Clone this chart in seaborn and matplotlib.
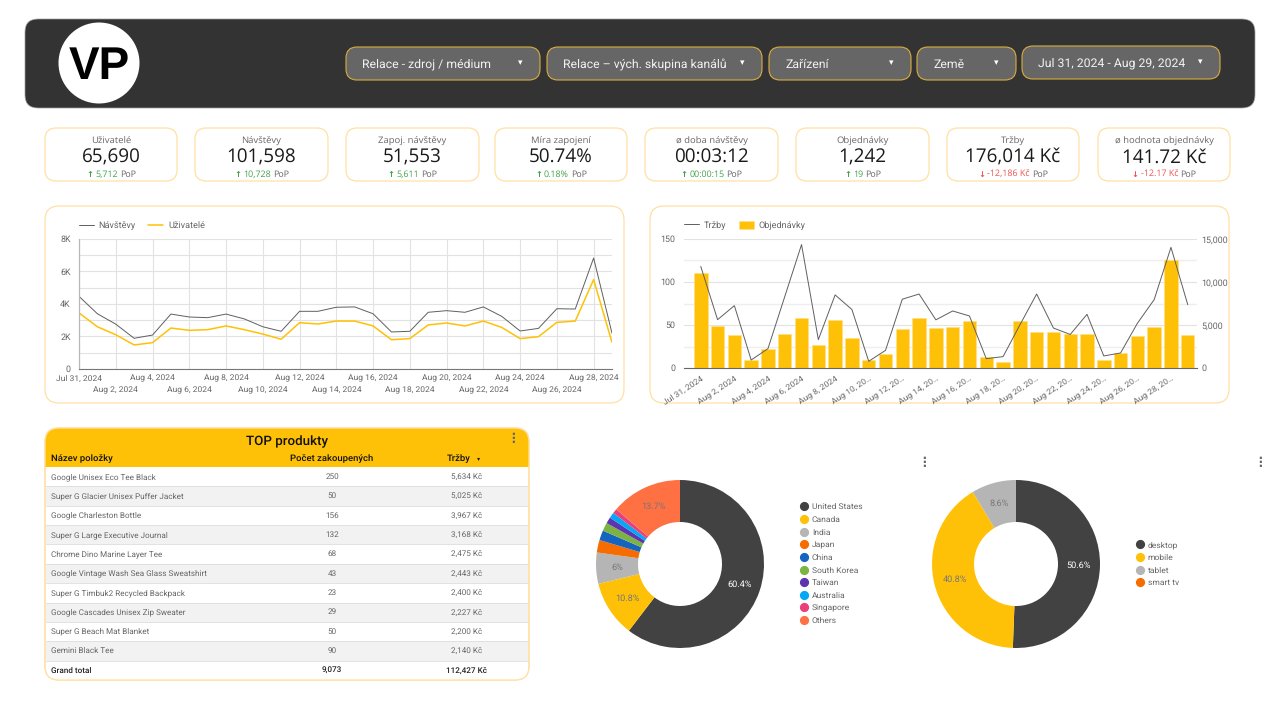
import matplotlib
matplotlib.use("Agg")
import matplotlib.pyplot as plt
from matplotlib.lines import Line2D
from matplotlib.patches import Circle, FancyBboxPatch, Rectangle
from matplotlib.ticker import FuncFormatter, MultipleLocator
import seaborn as sns

days = ["Jul 31, 2024"] + [f"Aug {d}, 2024" for d in range(1, 30)]

visits = [4470, 3400, 2760, 1890, 2090, 3380, 3200, 3160, 3380, 3080,
          2600, 2320, 3550, 3550, 3800, 3820, 3400, 2280, 2320, 3490,
          3590, 3490, 3820, 3240, 2340, 2500, 3710, 3690, 6830, 2200]
users = [3450, 2600, 2110, 1480, 1620, 2520, 2380, 2420, 2650, 2420,
         2150, 1830, 2850, 2770, 2950, 2950, 2650, 1800, 1870, 2710,
         2830, 2650, 2950, 2560, 1870, 1990, 2870, 2950, 5500, 1640]
orders = [111, 49, 38, 9, 22, 39, 58, 27, 56, 35, 9, 16, 45, 58, 46,
          48, 55, 13, 7, 55, 42, 42, 39, 39, 9, 17, 37, 48, 125, 38]
revenue = [11800, 5620, 7250, 930, 2250, 8300, 14350, 3300, 8500, 6800,
           780, 2050, 8000, 8600, 5600, 6630, 6050, 1090, 1320, 5000,
           8600, 4650, 3900, 6240, 1400, 1750, 5200, 7950, 14030, 7360]

filters = ["Relace - zdroj / médium", "Relace – vých. skupina kanálů", "Zařízení", "Země",
           "Jul 31, 2024 - Aug 29, 2024"]

kpi_names = ["Uživatelé", "Návštěvy", "Zapoj. návštěvy", "Míra zapojení",
             "ø doba návštěvy", "Objednávky", "Tržby", "ø hodnota objednávky"]
kpi_values = ["65,690", "101,598", "51,553", "50.74%", "00:03:12", "1,242",
              "176,014 Kč", "141.72 Kč"]
kpi_deltas = ["5,712", "10,728", "5,611", "0.18%", "00:00:15", "19",
              "-12,186 Kč", "-12.17 Kč"]

products = ["Google Unisex Eco Tee Black", "Super G Glacier Unisex Puffer Jacket",
            "Google Charleston Bottle", "Super G Large Executive Journal",
            "Chrome Dino Marine Layer Tee", "Google Vintage Wash Sea Glass Sweatshirt",
            "Super G Timbuk2 Recycled Backpack", "Google Cascades Unisex Zip Sweater",
            "Super G Beach Mat Blanket", "Gemini Black Tee"]
purchased = ["250", "50", "156", "132", "68", "43", "23", "29", "50", "90"]
product_revenue = ["5,634 Kč", "5,025 Kč", "3,967 Kč", "3,168 Kč", "2,475 Kč",
                   "2,443 Kč", "2,400 Kč", "2,227 Kč", "2,200 Kč", "2,140 Kč"]

countries = ["United States", "Canada", "India", "Japan", "China", "South Korea",
             "Taiwan", "Australia", "Singapore", "Others"]
country_share = [60.4, 10.8, 6.0, 2.4, 1.9, 1.6, 1.2, 1.1, 0.9, 13.7]
country_colors = ["#424242", "#ffc107", "#b5b5b5", "#f76c00", "#1565c0", "#7cb342",
                  "#5e35b1", "#03a9f4", "#ec407a", "#ff7043"]

devices = ["desktop", "mobile", "tablet", "smart tv"]
device_share = [50.6, 40.8, 8.6, 0.0]
device_colors = ["#424242", "#ffc107", "#b5b5b5", "#f76c00"]

sns.set_theme(style="white")
plt.rcParams["font.family"] = ["Roboto", "DejaVu Sans"]
plt.rcParams["text.hinting"] = "no_hinting"

YELLOW = "#ffc107"
BORDER = "#ffe0a3"
GREY = "#666666"
GRID = "#e2e2e2"
W, H = 1280, 720

fig = plt.figure(figsize=(12.8, 7.2), dpi=100, facecolor="white")

# page layer in pixel coordinates, charts go on top of it
page = fig.add_axes([0, 0, 1, 1], zorder=0)
page.set_xlim(0, W)
page.set_ylim(H, 0)
page.axis("off")


def px_axes(left, top, right, bottom, **kw):
    return fig.add_axes([left / W, 1 - bottom / H, (right - left) / W, (bottom - top) / H], **kw)


def card(x0, y0, x1, y1, face="white", edge=BORDER, r=11, lw=0.9, z=1):
    p = FancyBboxPatch((x0 + r, y0 + r), x1 - x0 - 2 * r, y1 - y0 - 2 * r,
                       boxstyle=f"round,pad={r},rounding_size={r}",
                       fc=face, ec=edge, lw=lw, zorder=z)
    page.add_patch(p)
    return p


# ===== header =====
card(25, 19, 1255, 108, face="#333333", edge="#a0a0a0", r=13, lw=0.5)
page.add_patch(Circle((99, 63), 40.5, fc="white", ec="none", zorder=2))
page.text(99, 67, "VP", ha="center", va="center", fontsize=33, fontweight="bold",
          color="black", family="Liberation Sans", zorder=3)

filter_x = [(346, 540), (547, 762), (769, 911), (917, 1016), (1022, 1220)]
for (x0, x1), label in zip(filter_x, filters):
    top = 46 if x0 == 1022 else 47
    card(x0, top, x1, top + 33, face="#666666", edge="#d9ad3f", r=11, lw=0.8, z=2)
    page.text(x0 + 16, top + 17.5, label, ha="left", va="center", fontsize=8.8,
              color="#f2f2f2", zorder=3)
    page.text(x1 - 20, top + 16, "▾", ha="center", va="center", fontsize=6.5,
              color="white", family="DejaVu Sans", zorder=3)

# ===== KPI cards =====
kpi_x = [(45, 177), (195, 328), (346, 479), (495, 627), (645, 778), (796, 929), (947, 1079), (1098, 1230)]
renderer = fig.canvas.get_renderer()
for (x0, x1), name, value, delta in zip(kpi_x, kpi_names, kpi_values, kpi_deltas):
    card(x0, 128, x1, 181)
    cx = (x0 + x1) / 2
    page.text(cx, 141, name, ha="center", va="center", fontsize=6.8, color="#666666",
              family="Open Sans", zorder=3)
    page.text(cx, 158, value, ha="center", va="center", fontsize=13.6, color="#1a1a1a",
              family="Open Sans", zorder=3)
    falling = delta.startswith("-")
    col = "#ef5350" if falling else "#43a047"
    a = page.text(0, 175, "↓" if falling else "↑", ha="left", va="center", fontsize=6,
                  color=col, fontweight="bold", family="DejaVu Sans", zorder=3)
    b = page.text(0, 175, delta, ha="left", va="center", fontsize=6.4, color=col,
                  family="Open Sans", zorder=3)
    c = page.text(0, 175, "PoP", ha="left", va="center", fontsize=6.4, color="#666666",
                  family="Open Sans", zorder=3)
    wa, wb, wc = [t.get_window_extent(renderer).width for t in (a, b, c)]
    start = cx - (wa + wb + wc + 4) / 2
    a.set_x(start)
    b.set_x(start + wa + 2)
    c.set_x(start + wa + wb + 4)

# ===== line chart =====
card(45, 206, 624, 403, r=14)
pos = list(range(len(days)))
ax = px_axes(79, 239, 612, 369, zorder=2)
ax.patch.set_alpha(0)
sns.lineplot(x=pos, y=visits, ax=ax, color="#5f5f5f", linewidth=0.7, label="Návštěvy", errorbar=None)
sns.lineplot(x=pos, y=users, ax=ax, color=YELLOW, linewidth=1.1, label="Uživatelé", errorbar=None)
ax.set_xlim(0, 29)
ax.set_ylim(0, 8000)
ax.yaxis.set_major_locator(MultipleLocator(2000))
ax.yaxis.set_minor_locator(MultipleLocator(1000))
ax.yaxis.set_major_formatter(FuncFormatter(lambda v, _: f"{v / 1000:.0f}K" if v else "0"))
ax.set_xticks(pos[::2])
ax.set_xticklabels(days[::2])
ax.grid(True, which="both", axis="y", color=GRID, lw=0.8)
ax.grid(True, which="major", axis="x", color=GRID, lw=0.8)
ax.set_axisbelow(True)
ax.tick_params(axis="both", which="both", length=0, labelcolor=GREY)
ax.tick_params(axis="x", labelsize=6.1, pad=4)
ax.tick_params(axis="y", labelsize=6.4, pad=6)
# every other date sits on a second row
for tick in ax.xaxis.get_major_ticks()[1::2]:
    tick.set_pad(12.5)
for s in ["top", "right"]:
    ax.spines[s].set_visible(False)
ax.spines["left"].set_color("#b8b8b8")
ax.spines["bottom"].set_color("#777777")
ax.spines["left"].set_linewidth(0.9)
ax.spines["bottom"].set_linewidth(0.8)
ax.legend(loc="lower left", bbox_to_anchor=(0, 1.07), ncol=2, frameon=False, fontsize=6.6,
          labelcolor=GREY, borderpad=0, borderaxespad=0, handlelength=1.65, handletextpad=0.5,
          columnspacing=1.35)

# ===== combo chart =====
card(650, 206, 1229, 403, r=14)
ax2 = px_axes(684, 239, 1197, 368, zorder=2)
ax2.patch.set_alpha(0)
sns.barplot(x=pos, y=orders, ax=ax2, color=YELLOW, saturation=1, width=0.8, native_scale=True,
            label="Objednávky", edgecolor="#ffe082", linewidth=0.4)
ax2.set_xlim(-1, 29.55)
ax2.set_ylim(0, 150)
ax2.yaxis.set_major_locator(MultipleLocator(50))
ax2.yaxis.set_minor_locator(MultipleLocator(25))
ax2.grid(True, which="major", axis="y", color=GRID, lw=0.8)
ax2.grid(True, which="minor", axis="y", color="#eeeeee", lw=1.0)
ax2.grid(False, axis="x")
ax2.set_axisbelow(True)
short = [d if d.startswith("Jul") or len(d) <= 11 else d[:10] + "…" for d in days[::2]]
ax2.set_xticks(pos[::2])
ax2.set_xticklabels(short, rotation=33, ha="right", rotation_mode="anchor")
ax2.tick_params(axis="both", which="both", length=0, labelcolor=GREY)
ax2.tick_params(axis="x", labelsize=6.1, pad=5)
ax2.tick_params(axis="y", labelsize=6.4, pad=6)
ax2.set_xlabel("")
ax2.set_ylabel("")
for s in ["top", "left", "right"]:
    ax2.spines[s].set_visible(False)
ax2.spines["bottom"].set_color("#666666")
ax2.spines["bottom"].set_linewidth(0.8)

ax3 = ax2.twinx()
ax3.patch.set_alpha(0)
sns.lineplot(x=pos, y=revenue, ax=ax3, color="#5f5f5f", linewidth=0.7, label="Tržby", errorbar=None)
ax3.set_ylim(0, 15000)
ax3.yaxis.set_major_locator(MultipleLocator(5000))
ax3.yaxis.set_major_formatter(FuncFormatter(lambda v, _: f"{v:,.0f}"))
ax3.tick_params(axis="y", length=0, labelsize=6.4, labelcolor=GREY, pad=3)
ax3.set_ylabel("")
ax3.grid(False)
for s in ax3.spines.values():
    s.set_visible(False)
h_line, l_line = ax3.get_legend_handles_labels()
h_bar, l_bar = ax2.get_legend_handles_labels()
ax3.legend(h_line + h_bar, l_line + l_bar, loc="lower left", bbox_to_anchor=(0, 1.07), ncol=2,
           frameon=False, fontsize=6.6, labelcolor=GREY, borderpad=0, borderaxespad=0,
           handlelength=1.65, handleheight=1.0, handletextpad=0.5, columnspacing=1.35)
if ax2.get_legend():
    ax2.get_legend().remove()

# ===== table =====
top, row_h = 467, 19.36
clip_card = card(45, 428, 529, 680, r=14, z=1)
head = page.add_patch(Rectangle((45, 428), 484, top - 428, fc=YELLOW, ec="none", zorder=2))
head.set_clip_path(clip_card)
for i in range(11):
    y = top + i * row_h
    r = page.add_patch(Rectangle((46, y), 482, row_h, fc="#f2f2f2" if i % 2 else "white",
                                 ec="none", zorder=2))
    r.set_clip_path(clip_card)
    if i < 10:
        page.plot([46, 528], [y + row_h, y + row_h], color="#dddddd", lw=0.6, zorder=2.5)
clip_edge = card(45, 428, 529, 680, face="none", r=14, z=4)

page.text(287, 442, "TOP produkty", ha="center", va="center", fontsize=9.6, fontweight="medium",
          color="#111111", zorder=5)
page.text(51, 459, "Název položky", ha="left", va="center", fontsize=6.8, fontweight="medium",
          color="#111111", zorder=5)
page.text(332, 459, "Počet zakoupených", ha="center", va="center", fontsize=6.8, fontweight="medium",
          color="#111111", zorder=5)
page.text(471, 459, "Tržby", ha="right", va="center", fontsize=6.8, fontweight="medium",
          color="#111111", zorder=5)
page.text(479, 458.5, "▾", ha="center", va="center", fontsize=4.5, color="#222222",
          family="DejaVu Sans", zorder=5)
for i, (name, qty, rev) in enumerate(zip(products, purchased, product_revenue)):
    y = top + (i + 0.5) * row_h
    page.text(51, y, name, ha="left", va="center", fontsize=5.9, color=GREY, zorder=5)
    page.text(332, y, qty, ha="center", va="center", fontsize=5.9, color=GREY, zorder=5)
    page.text(482, y, rev, ha="right", va="center", fontsize=5.9, color=GREY, zorder=5)
y = top + 10.5 * row_h
page.text(51, y, "Grand total", ha="left", va="center", fontsize=5.9, fontweight="medium", color="#222222", zorder=5)
page.text(332, y, "9,073", ha="center", va="center", fontsize=5.9, fontweight="medium", color="#222222", zorder=5)
page.text(487, y, "112,427 Kč", ha="right", va="center", fontsize=5.9, fontweight="medium", color="#222222", zorder=5)

for x, y in [(513.5, 439), (924, 463), (1260, 463)]:
    page.text(x, y, "⋮", ha="center", va="center", fontsize=8.5, fontweight="bold", color="#616161",
              family="DejaVu Sans", zorder=5)


# ===== donuts =====
def share_label(p):
    if p < 5:
        return ""
    return f"{p:.1f}%".replace(".0%", "%")


def donut(cx, cy, names, shares, colors, legend_x):
    a = px_axes(cx - 84, cy - 84, cx + 84, cy + 84, zorder=2)
    wedges, _, labels = a.pie(shares, colors=colors, startangle=90, counterclock=False, radius=1,
                              wedgeprops={"width": 0.5, "linewidth": 0}, autopct=share_label,
                              pctdistance=0.75, textprops={"fontsize": 6.6, "color": "#777777"})
    labels[0].set_color("white")
    a.set_xlim(-1, 1)
    a.set_ylim(-1, 1)
    handles = [Line2D([], [], marker="o", ls="", ms=5.6, color=c) for c in colors]
    fig.legend(handles, names, loc="center left", bbox_to_anchor=(legend_x / W, 1 - cy / H),
               frameon=False, fontsize=6.1, labelcolor=GREY, borderpad=0, borderaxespad=0,
               labelspacing=0.59, handletextpad=0.45, handlelength=1.0)


donut(680, 564, countries, country_share, country_colors, 799.5)
donut(1016, 564, devices, device_share, device_colors, 1135.5)

fig.savefig("out.png", dpi=100)
